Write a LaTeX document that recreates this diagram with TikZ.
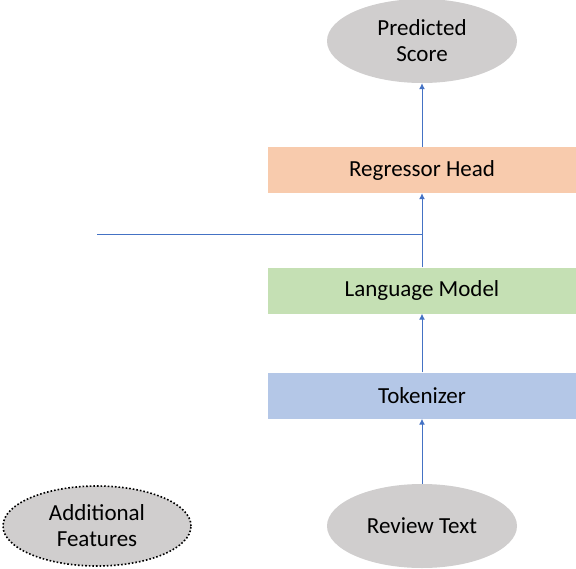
\documentclass[tikz,border=0pt]{standalone}
\usepackage{fontspec}
\setmainfont{Carlito}
\usetikzlibrary{shapes.geometric,arrows.meta}
\definecolor{peach}{HTML}{F8CBAD}
\definecolor{lgreen}{HTML}{C5E0B4}
\definecolor{lblue}{HTML}{B4C7E7}
\definecolor{lgray}{HTML}{D0CECE}
\definecolor{arrblue}{HTML}{4472C4}
\begin{document}
\begin{tikzpicture}[x=1pt,y=-1pt,
  box/.style={rectangle, minimum width=308pt, minimum height=46pt, inner sep=0pt, font=\fontsize{23}{26}\selectfont},
  oval/.style={ellipse, fill=lgray, minimum width=190pt, minimum height=84pt, inner sep=0pt, align=center, font=\fontsize{23}{26}\selectfont},
  conn/.style={draw=arrblue, line width=1pt, -{Latex[length=6pt,width=6pt]}},
  plainconn/.style={draw=arrblue, line width=1pt}]
\useasboundingbox (0,0) rectangle (576,568);
\node[oval] (score) at (422,41) {Predicted\\Score};
\node[box, fill=peach] (reg) at (422,170) {Regressor Head};
\node[box, fill=lgreen] (lm) at (422,290.5) {Language Model};
\node[box, fill=lblue] (tok) at (422,395.5) {Tokenizer};
\node[oval] (review) at (422,526) {Review Text};
\node[oval, draw=black, dotted, line width=1.6pt, minimum width=188pt, minimum height=80pt] (add) at (97,526) {Additional\\Features};
\coordinate (feat) at (97,234);
\coordinate (join) at (422,234);
\draw[conn] (review) -- (tok);
\draw[conn] (tok) -- (lm);
\draw[conn] (lm) -- (reg);
\draw[conn] (reg) -- (score);
\draw[plainconn] (feat) -- (join);
\end{tikzpicture}
\end{document}
